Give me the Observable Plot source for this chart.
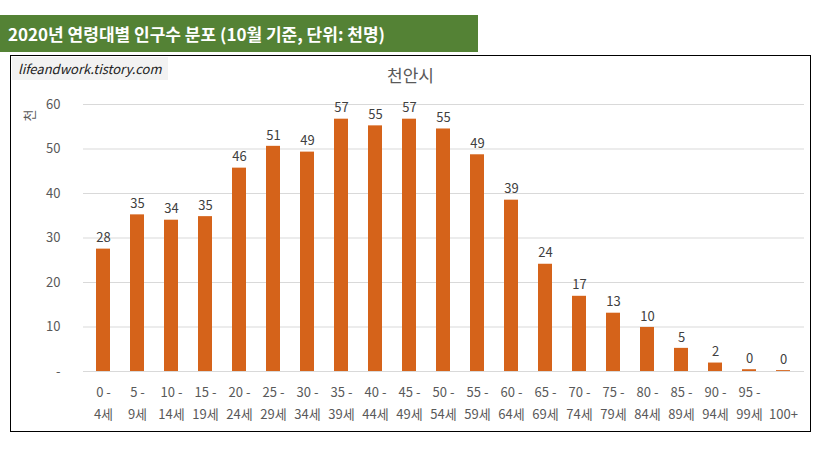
<!DOCTYPE html>
<html><head><meta charset="utf-8">
<script src="https://cdn.jsdelivr.net/npm/d3@7"></script>
<script src="https://cdn.jsdelivr.net/npm/@observablehq/plot@0.6"></script>
<style>
body{margin:0;background:#fff;font-family:"Noto Sans CJK KR","Noto Sans",sans-serif;width:819px;height:449px;position:relative;overflow:hidden}
#title{position:absolute;left:0;top:15px;width:478px;height:37px;background:#548235;color:#fff;font-weight:bold;font-size:17px;line-height:37px;padding-left:8px;box-sizing:border-box}
#box{position:absolute;left:10px;top:55px;width:801px;height:377px;border:1px solid #000;box-sizing:border-box}
#wm{position:absolute;left:1px;top:1px;background:#f2f2f2;font-style:italic;font-size:13px;padding:2px 6px;color:#222}
#ct{position:absolute;left:0;width:100%;top:6px;text-align:center;font-size:17px;color:#595959}
#yl{position:absolute;left:12px;top:50px;font-size:13px;color:#595959;transform:rotate(-90deg)}
#chart{position:absolute;left:0;top:0}
</style></head><body>
<div id="title">2020년 연령대별 인구수 분포 (10월 기준, 단위: 천명)</div>
<div id="box"><div id="chart"></div><div id="wm">lifeandwork.tistory.com</div><div id="ct">천안시</div><div id="yl">천</div></div>
<script>
const ages = ["0 -\n4세","5 -\n9세","10 -\n14세","15 -\n19세","20 -\n24세","25 -\n29세","30 -\n34세","35 -\n39세","40 -\n44세","45 -\n49세","50 -\n54세","55 -\n59세","60 -\n64세","65 -\n69세","70 -\n74세","75 -\n79세","80 -\n84세","85 -\n89세","90 -\n94세","95 -\n99세","\n100+"];
const values = [27.5,35.2,34.0,34.8,45.7,50.6,49.3,56.7,55.2,56.7,54.5,48.7,38.5,24.1,16.9,13.1,9.9,5.2,1.9,0.4,0.2];
const yTicks = [0,10,20,30,40,50,60];
const data = ages.map((a,i)=>({age:a,v:values[i]}));
const plot = Plot.plot({
  width:799,height:375,marginLeft:72,marginRight:6,marginTop:48,marginBottom:60,
  style:{fontFamily:"'Noto Sans CJK KR','Noto Sans',sans-serif",fontSize:"13px",color:"#595959"},
  x:{domain:ages,paddingInner:0.58,paddingOuter:0.29,label:null},
  y:{domain:[0,60],label:null},
  marks:[
    Plot.gridY(yTicks,{stroke:"#d9d9d9",strokeOpacity:1}),
    Plot.axisY(yTicks,{tickSize:0,tickPadding:23,tickFormat:d=>d===0?"-":d,label:null,fontSize:13}),
    Plot.axisX({tickSize:0,tickPadding:10,lineHeight:1.7,fontSize:13,label:null}),
    Plot.barY(data,{x:"age",y:"v",fill:"#D5631A"}),
    Plot.text(data,{x:"age",y:"v",text:d=>Math.round(d.v),dy:-11,fontSize:13,fill:"#404040"})
  ]
});
document.getElementById("chart").appendChild(plot);
</script></body></html>
